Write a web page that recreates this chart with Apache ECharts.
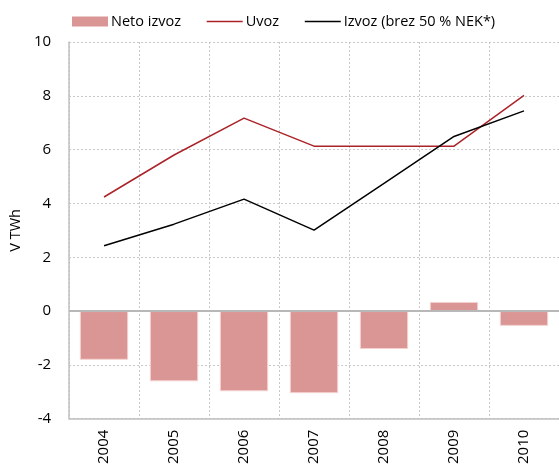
<!DOCTYPE html>
<html>
<head>
<meta charset="utf-8">
<script src="https://cdn.jsdelivr.net/npm/echarts@6/dist/echarts.min.js"></script>
<style>
  html, body { margin: 0; padding: 0; background: #fff; }
  #chart { width: 559px; height: 467px; }
</style>
</head>
<body>
<div id="chart"></div>
<script>
// Electricity trade balance, TWh per year
const years = ['2004', '2005', '2006', '2007', '2008', '2009', '2010'];
const netoIzvoz = [-1.81, -2.61, -2.98, -3.05, -1.41, 0.34, -0.55];
const uvoz = [4.24, 5.8, 7.17, 6.13, 6.13, 6.13, 8.02];
const izvoz = [2.43, 3.23, 4.16, 3.01, 4.75, 6.49, 7.44];
const yTicks = { min: -4, max: 10, step: 2 };

const FONT = '"Open Sans", sans-serif';
const RED = '#ab2328';
const BAR = '#d99694';
const chart = echarts.init(document.getElementById('chart'), null, { renderer: 'canvas' });

chart.setOption({
  animation: false,
  backgroundColor: '#ffffff',
  textStyle: { fontFamily: FONT, color: '#000' },
  legend: {
    top: 9,
    left: 67,
    itemGap: 25,
    itemWidth: 36,
    itemHeight: 10,
    textStyle: { fontFamily: FONT, fontSize: 14.5, color: '#000', padding: [0, 0, 0, -2] },
    data: [
      { name: 'Neto izvoz', icon: 'rect', itemStyle: { color: BAR, borderWidth: 0 } },
      { name: 'Uvoz', itemStyle: { opacity: 0 }, lineStyle: { color: RED, width: 1.5 } },
      { name: 'Izvoz (brez 50 % NEK*)', itemStyle: { opacity: 0 }, lineStyle: { color: '#000', width: 1.5 } }
    ]
  },
  grid: { left: 66, top: 42, width: 499, bottom: 44, containLabel: false },
  xAxis: {
    type: 'category',
    data: years,
    boundaryGap: true,
    axisLine: { onZero: false, lineStyle: { color: '#c0c0c0', width: 1.5 } },
    axisTick: { show: false },
    axisLabel: { rotate: 90, margin: 11, fontSize: 15, color: '#000', fontFamily: FONT },
    splitLine: { show: true, lineStyle: { color: '#c8c8c8', type: [2, 2], width: 1 } }
  },
  yAxis: {
    type: 'value',
    min: yTicks.min,
    max: yTicks.max,
    interval: yTicks.step,
    name: 'V TWh',
    nameLocation: 'middle',
    nameGap: 46,
    nameTextStyle: { fontSize: 14.5, color: '#000', fontFamily: FONT },
    axisLine: { show: true, lineStyle: { color: '#c0c0c0', width: 1.5 } },
    axisTick: { show: false },
    axisLabel: { margin: 18, fontSize: 15, color: '#000', fontFamily: FONT },
    splitLine: { show: true, lineStyle: { color: '#c8c8c8', type: [2, 2], width: 1 } }
  },
  series: [
    {
      name: 'Neto izvoz',
      type: 'bar',
      data: netoIzvoz,
      barWidth: '69%',
      itemStyle: { color: BAR, borderColor: '#f4d2d1', borderWidth: 1 },
      markLine: {
        silent: true,
        symbol: 'none',
        label: { show: false },
        lineStyle: { color: '#b8b8b8', type: 'solid', width: 2 },
        data: [{ yAxis: 0 }]
      },
      z: 2
    },
    {
      name: 'Uvoz',
      type: 'line',
      data: uvoz,
      symbol: 'none',
      lineStyle: { color: RED, width: 1.5 },
      itemStyle: { color: RED },
      z: 3
    },
    {
      name: 'Izvoz (brez 50 % NEK*)',
      type: 'line',
      data: izvoz,
      symbol: 'none',
      lineStyle: { color: '#000000', width: 1.5 },
      itemStyle: { color: '#000000' },
      z: 4
    }
  ]
});
</script>
</body>
</html>
